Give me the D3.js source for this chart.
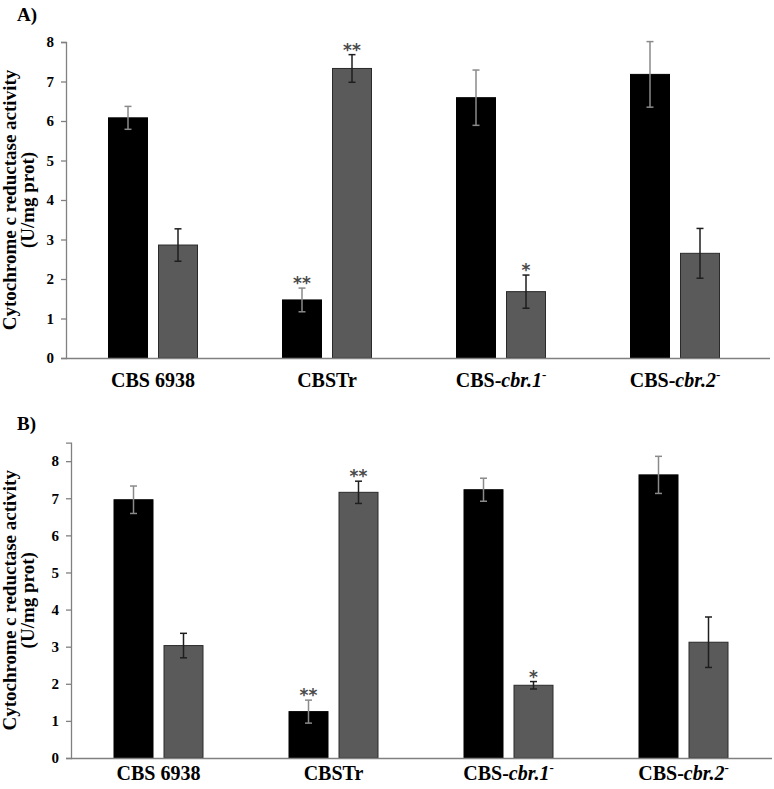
<!DOCTYPE html>
<html><head><meta charset="utf-8">
<script src="https://cdn.jsdelivr.net/npm/d3@7"></script>
<style>body{margin:0;background:#fff}svg{display:block}</style>
</head><body>
<svg id="c" width="774" height="789"></svg>
<script>
const categories = ["CBS 6938", "CBSTr", "CBS-cbr.1-", "CBS-cbr.2-"];
const series = ["black", "gray"];
const yTicks = [0, 1, 2, 3, 4, 5, 6, 7, 8];

const valuesA_black = [6.08, 1.47, 6.59, 7.18];
const errA_black    = [0.29, 0.30, 0.70, 0.83];
const valuesA_gray  = [2.86, 7.33, 1.68, 2.65];
const errA_gray     = [0.41, 0.35, 0.42, 0.63];
const sigA_black    = ["", "**", "", ""];
const sigA_gray     = ["", "**", "*", ""];

const valuesB_black = [6.96, 1.25, 7.23, 7.63];
const errB_black    = [0.37, 0.31, 0.31, 0.50];
const valuesB_gray  = [3.03, 7.16, 1.96, 3.12];
const errB_gray     = [0.33, 0.30, 0.10, 0.68];
const sigB_black    = ["", "**", "", ""];
const sigB_gray     = ["", "**", "*", ""];

const yTitle1 = "Cytochrome c reductase activity";
const yTitle2 = "(U/mg prot)";

const FONT = "'Liberation Serif','Times New Roman',serif";
const svg = d3.select("#c");

function rows(vb, eb, sb, vg, eg, sg) {
  return categories.map((c, i) => ({
    cat: c,
    bars: [
      {s: "black", v: vb[i], e: eb[i], sig: sb[i]},
      {s: "gray",  v: vg[i], e: eg[i], sig: sg[i]}
    ]
  }));
}

function labelParts(c) {
  const m = c.match(/^(CBS-)(cbr\.\d)(-)$/);
  if (m) return [{t: m[1], it: false}, {t: m[2], it: true}, {t: "-", it: false, sup: true}];
  return [{t: c, it: false}];
}

function panel(cfg, data) {
  const g = svg.append("g");
  const x0 = d3.scaleBand().domain(categories).range([cfg.left, cfg.right]).padding(0);
  const inner = 89;
  const x1 = d3.scaleBand().domain(series)
    .range([(x0.bandwidth() - inner) / 2, (x0.bandwidth() + inner) / 2])
    .paddingInner(0.22).paddingOuter(0);
  const y = d3.scaleLinear().domain([0, cfg.yMax]).range([cfg.y0, cfg.yTopPx]);

  g.append("text").attr("x", 17).attr("y", cfg.letterY)
    .attr("font-family", FONT).attr("font-weight", "bold").attr("font-size", 19)
    .text(cfg.letter);

  const ya = g.append("g").attr("transform", `translate(${cfg.left},0)`)
    .call(d3.axisLeft(y).tickValues(yTicks).tickSize(5).tickPadding(7).tickFormat(d3.format("d")));
  ya.select(".domain").attr("stroke", "#808080").attr("stroke-width", 1.3);
  ya.selectAll(".tick line").attr("stroke", "#808080").attr("stroke-width", 1.3);
  ya.selectAll(".tick text").attr("font-family", FONT).attr("font-weight", "bold")
    .attr("font-size", 15).attr("fill", "#000");

  const cy = (cfg.y0 + cfg.yTopPx) / 2;
  g.append("text").attr("transform", `translate(16,${cy}) rotate(-90)`)
    .attr("text-anchor", "middle").attr("font-family", FONT).attr("font-weight", "bold")
    .attr("font-size", 19).text(yTitle1);
  g.append("text").attr("transform", `translate(34,${cy}) rotate(-90)`)
    .attr("text-anchor", "middle").attr("font-family", FONT).attr("font-weight", "bold")
    .attr("font-size", 19).text(yTitle2);

  const grp = g.selectAll("g.grp").data(data).join("g").attr("class", "grp")
    .attr("transform", d => `translate(${x0(d.cat)},0)`);
  grp.selectAll("rect").data(d => d.bars).join("rect")
    .attr("x", d => x1(d.s)).attr("width", x1.bandwidth())
    .attr("y", d => y(d.v)).attr("height", d => y(0) - y(d.v))
    .attr("fill", d => d.s === "black" ? "#000" : "#5a5a5a")
    .attr("stroke", d => d.s === "black" ? "#000" : "#2a2a2a").attr("stroke-width", 1);

  const eb = grp.selectAll("g.err").data(d => d.bars).join("g").attr("class", "err")
    .attr("stroke", d => d.s === "black" ? "#8a8a8a" : "#1e1e1e").attr("stroke-width", 1.5);
  const cx = d => x1(d.s) + x1.bandwidth() / 2;
  eb.append("line").attr("x1", cx).attr("x2", cx).attr("y1", d => y(d.v + d.e)).attr("y2", d => y(d.v - d.e));
  eb.append("line").attr("x1", d => cx(d) - 3.5).attr("x2", d => cx(d) + 3.5).attr("y1", d => y(d.v + d.e)).attr("y2", d => y(d.v + d.e));
  eb.append("line").attr("x1", d => cx(d) - 3.5).attr("x2", d => cx(d) + 3.5).attr("y1", d => y(d.v - d.e)).attr("y2", d => y(d.v - d.e));

  grp.selectAll("text.sig").data(d => d.bars.filter(b => b.sig)).join("text").attr("class", "sig")
    .attr("x", cx).attr("y", d => y(d.v + d.e) + 1)
    .attr("text-anchor", "middle").attr("font-family", "'DejaVu Sans',sans-serif")
    .attr("font-weight", "bold")
    .attr("font-size", 17).attr("fill", "#4a4a4a").text(d => d.sig);

  const xa = g.append("g").attr("transform", `translate(0,${cfg.y0})`)
    .call(d3.axisBottom(x0).tickSize(0).tickFormat(""));
  xa.select(".domain").attr("d", `M${cfg.left},0.5H${cfg.axisEnd}`).attr("stroke", "#808080").attr("stroke-width", 1.3);

  const lab = g.selectAll("text.cat").data(categories).join("text").attr("class", "cat")
    .attr("x", d => x0(d) + x0.bandwidth() / 2).attr("y", cfg.labelY)
    .attr("text-anchor", "middle").attr("font-family", FONT).attr("font-weight", "bold")
    .attr("font-size", 20).attr("fill", "#000");
  lab.each(function(d) {
    const t = d3.select(this);
    labelParts(d).forEach(p => {
      const ts = t.append("tspan").text(p.t);
      if (p.it) ts.attr("font-style", "italic");
      if (p.sup) ts.attr("font-size", 13).attr("dy", -8);
    });
  });
}

panel({left: 66, right: 762, axisEnd: 770, y0: 358, yTopPx: 42, yMax: 8,
       letter: "A)", letterY: 21, labelY: 387},
      rows(valuesA_black, errA_black, sigA_black, valuesA_gray, errA_gray, sigA_gray));

panel({left: 71, right: 771, axisEnd: 772, y0: 758, yTopPx: 442.6, yMax: 8.5,
       letter: "B)", letterY: 430, labelY: 780},
      rows(valuesB_black, errB_black, sigB_black, valuesB_gray, errB_gray, sigB_gray));
</script>
</body></html>
